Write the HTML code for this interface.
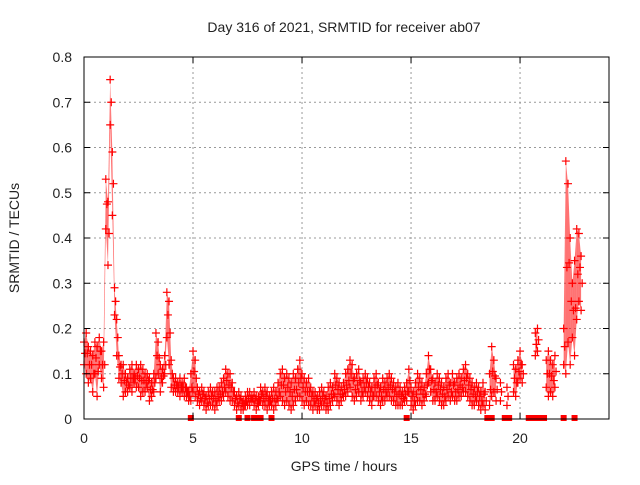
<!DOCTYPE html>
<html><head><meta charset="utf-8"><style>
body{margin:0;background:#fff}
svg text{font-family:"Liberation Sans",sans-serif;font-size:14px;fill:#222}
</style></head><body>
<svg id="c" width="640" height="480" xmlns="http://www.w3.org/2000/svg">
<rect width="640" height="480" fill="#fff"/>
<text x="344" y="32" text-anchor="middle">Day 316 of 2021, SRMTID for receiver ab07</text>
<text x="344" y="471" text-anchor="middle">GPS time / hours</text>
<text transform="translate(19,238) rotate(-90)" text-anchor="middle">SRMTID / TECUs</text>
<g id="grid"></g><g id="marks"></g><g id="axes"></g>
</svg>
<script>
const xTicks=[0,5,10,15,20];
const yTicks=[0,0.1,0.2,0.3,0.4,0.5,0.6,0.7,0.8];
const yTickLabels=["0","0.1","0.2","0.3","0.4","0.5","0.6","0.7","0.8"];
const step=0.1;
const upper=[.17,.19,.16,.15,.14,.17,.16,.18,.15,.17,
.53,.48,.75,.59,.29,.22,.14,.12,.12,.10,
.09,.11,.12,.10,.12,.11,.12,.11,.10,.10,
.09,.08,.10,.19,.17,.12,.11,.14,.28,.26,
.13,.09,.09,.08,.09,.08,.09,.07,.06,.10,
.15,.13,.07,.06,.07,.06,.05,.06,.07,.06,
.06,.07,.07,.08,.09,.11,.10,.10,.08,.06,
.05,.06,.05,.04,.05,.06,.06,.05,.06,.05,
.05,.07,.06,.07,.06,.05,.06,.07,.06,.08,
.10,.11,.09,.10,.09,.08,.10,.09,.11,.13,
.10,.09,.08,.09,.07,.06,.06,.05,.06,.07,
.06,.05,.07,.08,.07,.10,.09,.08,.07,.08,
.10,.11,.13,.12,.09,.10,.11,.08,.09,.10,
.09,.08,.07,.09,.10,.08,.07,.09,.08,.09,
.10,.09,.08,.07,.08,.07,.06,.07,.08,.11,
.07,.06,.08,.10,.09,.08,.07,.10,.14,.11,
.09,.08,.10,.09,.08,.07,.09,.10,.08,.10,
.08,.09,.10,.09,.11,.12,.10,.09,.08,.07,
.08,.07,.06,.08,.06,null,.10,.16,.13,.09,
null,.08,null,null,.07,null,null,.12,.11,.13,
.15,.12,null,null,null,null,null,.19,.20,null,
null,null,.13,.15,.13,.12,.14,null,null,null,.20,.57,
.52,.40,.30,.35,.42,.41,.36];
const lower=[.12,.10,.08,.09,.06,.10,.05,.12,.09,.07,
.42,.34,.65,.45,.23,.14,.09,.08,.05,.06,
.06,.07,.06,.08,.07,.07,.05,.06,.06,.07,
.04,.05,.06,.09,.10,.06,.08,.10,.18,.12,
.07,.06,.06,.06,.05,.06,.05,.05,.04,.04,
.06,.05,.04,.03,.04,.03,.02,.03,.03,.03,
.02,.03,.04,.04,.05,.06,.05,.04,.04,.03,
.02,.03,.02,.02,.03,.03,.03,.04,.03,.02,
.03,.04,.03,.03,.02,.03,.03,.02,.03,.04,
.05,.04,.03,.04,.03,.02,.03,.04,.05,.05,
.04,.03,.04,.03,.03,.02,.03,.02,.02,.03,
.03,.02,.02,.03,.04,.05,.04,.03,.04,.05,
.05,.06,.07,.05,.04,.05,.06,.04,.05,.06,
.05,.04,.03,.05,.05,.04,.03,.04,.04,.05,
.05,.04,.04,.03,.03,.03,.03,.04,.04,.06,
.03,.02,.03,.04,.04,.03,.04,.05,.08,.06,
.04,.04,.05,.04,.03,.03,.04,.05,.04,.05,
.04,.04,.05,.05,.06,.06,.05,.04,.03,.03,
.04,.03,.02,.03,.02,null,.03,.05,.06,.04,
null,.04,null,null,.03,null,null,.06,.05,.08,
.09,.08,null,null,null,null,null,.14,.15,null,
null,null,.07,.05,.06,.05,.07,null,null,null,.12,.10,
.17,.12,.18,.14,.22,.26,.24];
const zeroTimes=[4.9,7.1,7.5,7.8,7.9,8.0,8.1,8.6,14.8,18.5,18.6,18.7,19.3,19.4,19.5,20.4,20.5,20.6,20.7,20.9,21.1,22.0,22.5];
const X0=84,X1=609,Y0=419,Y1=57,XMAX=24.08,YMAX=0.8;
const sx=t=>X0+t/XMAX*(X1-X0), sy=v=>Y0-v/YMAX*(Y0-Y1);
const NS="http://www.w3.org/2000/svg";
function mk(tag,attrs,parent){const e=document.createElementNS(NS,tag);for(const k in attrs)e.setAttribute(k,attrs[k]);parent.appendChild(e);return e;}
const grid=document.getElementById('grid'),marks=document.getElementById('marks'),axes=document.getElementById('axes');
xTicks.forEach(t=>{if(t>0){const l=mk('line',{x1:sx(t),x2:sx(t),y1:Y0,y2:Y1,stroke:'#999','stroke-dasharray':'2,3'},grid);

}
const tx=mk('text',{x:sx(t),y:Y0+24,'text-anchor':'middle'},axes);tx.textContent=t;


mk('line',{x1:sx(t),x2:sx(t),y1:Y0,y2:Y0-6,stroke:'#000'},axes);
mk('line',{x1:sx(t),x2:sx(t),y1:Y1,y2:Y1+6,stroke:'#000'},axes);});
yTicks.forEach((v,i)=>{if(v>0&&v<YMAX){const l=mk('line',{x1:X0,x2:X1,y1:sy(v),y2:sy(v),stroke:'#999','stroke-dasharray':'2,3'},grid);

}
const tx=mk('text',{x:X0-12,y:sy(v)+5,'text-anchor':'end'},axes);tx.textContent=yTickLabels[i];


mk('line',{x1:X0,x2:X0+6,y1:sy(v),y2:sy(v),stroke:'#000'},axes);
mk('line',{x1:X1,x2:X1-6,y1:sy(v),y2:sy(v),stroke:'#000'},axes);});
const fr=mk('rect',{x:X0,y:Y1,width:X1-X0,height:Y0-Y1,fill:'none',stroke:'#000'},axes);


for(let i=0;i<upper.length-1;i++){
  if(upper[i]==null||upper[i+1]==null)continue;
  const t0=i*step,t1=(i+1)*step;
  const p=mk('polygon',{points:`${sx(t0)},${sy(upper[i])} ${sx(t1)},${sy(upper[i+1])} ${sx(t1)},${sy(lower[i+1])} ${sx(t0)},${sy(lower[i])}`,fill:'rgba(255,0,0,0.55)'},marks);
  
  
}
function plus(t,v,name){const x=sx(t),y=sy(v);
const p=mk('path',{d:`M${x-4},${y}H${x+4}M${x},${y-4}V${y+4}`,stroke:'#f00','stroke-width':1.2},marks);

}
upper.forEach((v,i)=>{if(v!=null){plus(i*step,v,'srmtid-point');plus(i*step+0.05,(v+lower[i])/2,'srmtid-point');}});
lower.forEach((v,i)=>{if(v!=null)plus(i*step,v,'srmtid-point');});
zeroTimes.forEach(t=>{const r=mk('rect',{x:sx(t)-3,y:Y0-4,width:6,height:6,fill:'#f00'},marks);

});
</script>
</body></html>
